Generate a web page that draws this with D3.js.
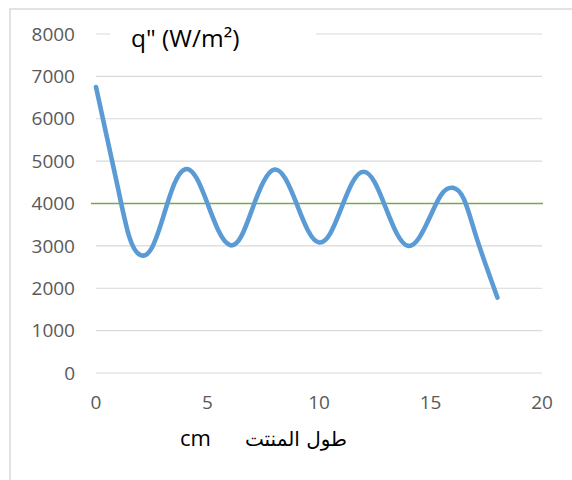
<!DOCTYPE html>
<html><head><meta charset="utf-8">
<script src="https://cdn.jsdelivr.net/npm/d3@7"></script>
<style>
html,body{margin:0;padding:0;background:#fff;}
svg{display:block;}
</style></head>
<body>
<svg id="chart" width="572" height="480"></svg>
<script>
// Data
const xValues = [0,0.5,1,1.5,2,2.5,3,3.5,4,4.5,5,5.5,6,6.5,7,7.5,8,8.5,9,9.5,10,10.5,11,11.5,12,12.5,13,13.5,14,14.5,15,15.5,16,16.5,17,17.5,18];
const heatFlux = [6750,5540,4330,3200,2780,2950,3660,4450,4810,4610,4000,3350,3020,3210,3860,4500,4800,4580,3990,3370,3080,3290,3890,4500,4750,4500,3890,3280,3000,3200,3710,4220,4370,4100,3300,2520,1780];
const referenceLevel = 4000;
const yTicks = [0,1000,2000,3000,4000,5000,6000,7000,8000];
const xTicks = [0,5,10,15,20];
const titleText = 'q" (W/m²)';
const xLabelArabic = "طول المنتت";
const xLabelUnit = "cm";

const svg = d3.select("#chart");
const W = 572, H = 480;

// outer border
svg.append("rect").attr("x",10).attr("y",9).attr("width",W+20).attr("height",H+20)
  .attr("fill","#fff").attr("stroke","#d9d9d9").attr("stroke-width",1.5);

const x = d3.scaleLinear().domain([0,20]).range([96,542]);
const y = d3.scaleLinear().domain([0,8000]).range([373,34]);

// gridlines
svg.append("g").selectAll("line").data(yTicks).join("line")
  .attr("x1",96).attr("x2",542)
  .attr("y1",d=>y(d)).attr("y2",d=>y(d))
  .attr("stroke","#d9d9d9").attr("stroke-width",1.2);

// y tick labels
svg.append("g").selectAll("text").data(yTicks).join("text")
  .attr("x",75).attr("y",d=>y(d)).attr("dy","0.35em")
  .attr("text-anchor","end")
  .attr("font-family","Open Sans, sans-serif").attr("font-size",19)
  .attr("fill","#595959").text(d=>d);

// x tick labels
svg.append("g").selectAll("text").data(xTicks).join("text")
  .attr("x",d=>x(d)).attr("y",409)
  .attr("text-anchor","middle")
  .attr("font-family","Open Sans, sans-serif").attr("font-size",19)
  .attr("fill","#595959").text(d=>d);

// reference line
svg.append("line").attr("x1",91).attr("x2",543)
  .attr("y1",y(referenceLevel)).attr("y2",y(referenceLevel))
  .attr("stroke","#70ad47").attr("stroke-width",1.3);

// series line
const line = d3.line().x((d,i)=>x(xValues[i])).y(d=>y(d)).curve(d3.curveNatural);
svg.append("path").datum(heatFlux).attr("d",line)
  .attr("fill","none").attr("stroke","#5b9bd5").attr("stroke-width",4.6)
  .attr("stroke-linecap","round").attr("stroke-linejoin","round");

// title box
svg.append("rect").attr("x",110).attr("y",20).attr("width",206).attr("height",34).attr("fill","#fff");
svg.append("text").attr("x",131).attr("y",47)
  .attr("font-family","Open Sans, sans-serif").attr("font-size",24.5)
  .attr("fill","#000").text(titleText);

// x axis label
svg.append("text").attr("x",180).attr("y",446)
  .attr("font-family","Open Sans, sans-serif").attr("font-size",22)
  .attr("fill","#000").text(xLabelUnit);
svg.append("text").attr("x",347).attr("y",446).attr("text-anchor","start").attr("direction","rtl")
  .attr("font-family","DejaVu Sans, sans-serif").attr("font-size",20)
  .attr("fill","#000").text(xLabelArabic);
</script>
</body></html>
